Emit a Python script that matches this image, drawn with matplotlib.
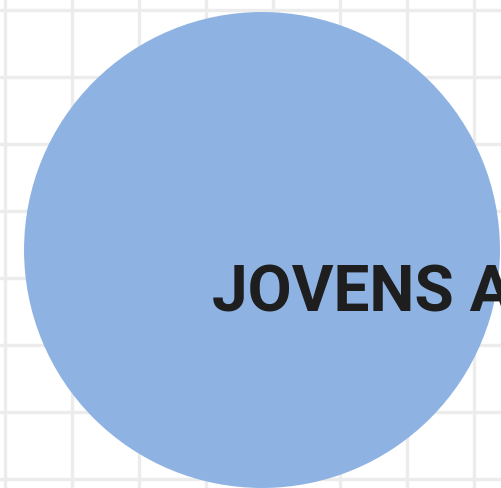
import matplotlib.pyplot as plt
from matplotlib.patches import Circle

# bubble data (grid units)
labels = ["JOVENS ADULTOS"]
cx = [3.836]
cy = [3.418]
radius = [3.552]
label_x = [3.09]
label_y = [2.77]

fig = plt.figure(figsize=(5.02, 4.89), dpi=100)
ax = fig.add_axes([0, 0, 1, 1])

for i in range(len(labels)):
    ax.add_patch(Circle((cx[i], cy[i]), radius[i], facecolor="#8eb3e2", edgecolor="none", zorder=2))
    ax.text(label_x[i], label_y[i], labels[i], fontsize=46, fontweight="bold",
            family=["Roboto", "DejaVu Sans"], color="#1e1e1e", ha="left", va="center", zorder=3)

ax.set_xlim(-5 / 67, 497 / 67)
ax.set_ylim((480 - 489) / 67, 480 / 67)
ax.set_xticks(range(0, 8))
ax.set_yticks(range(0, 8))
ax.grid(True, color="#ececec", linewidth=2.4, zorder=0)
ax.set_axisbelow(True)
ax.tick_params(length=0, labelbottom=False, labelleft=False)
for s in ax.spines.values():
    s.set_visible(False)

fig.savefig("out.png", dpi=100)
